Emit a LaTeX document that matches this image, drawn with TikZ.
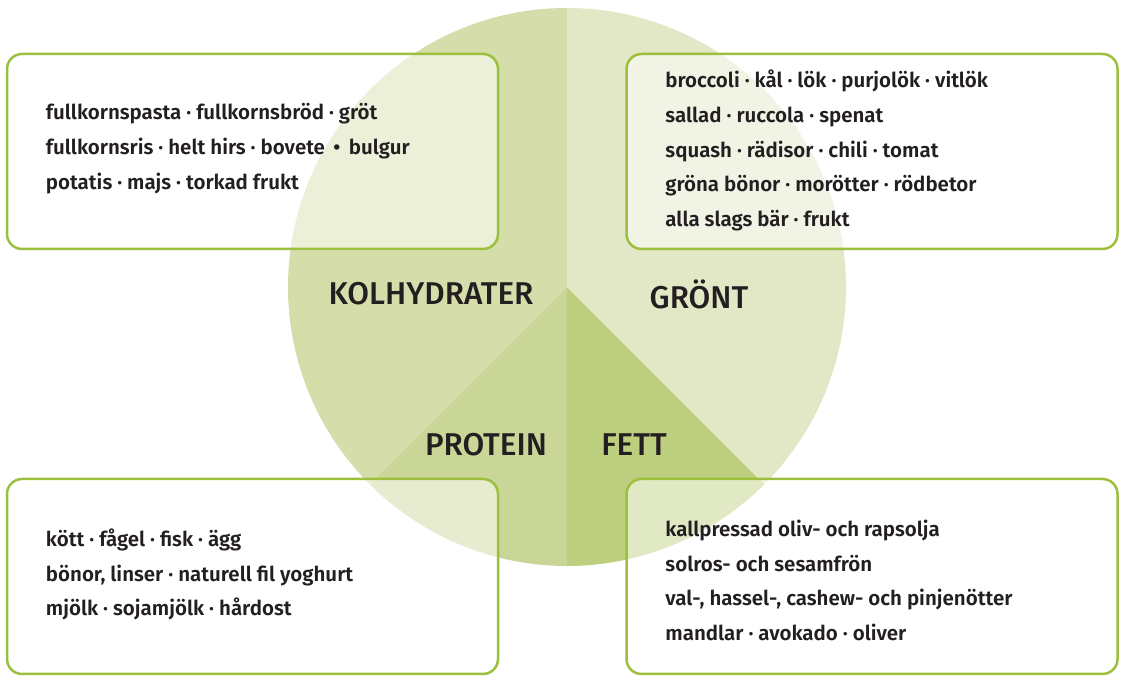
\documentclass[tikz,border=0pt]{standalone}
\usepackage{fontspec}
\setmainfont{Fira Sans}[BoldFont={Fira Sans SemiBold}]
\newfontfamily\headfont{Fira Sans Medium}
\usetikzlibrary{positioning}
\definecolor{kolhgreen}{HTML}{D5DEAB}
\definecolor{grongreen}{HTML}{E2E7C6}
\definecolor{protgreen}{HTML}{CAD697}
\definecolor{fettgreen}{HTML}{BDCE7E}
\definecolor{boxline}{HTML}{9DBF3E}
\definecolor{ink}{HTML}{231F20}

\begin{document}
\begin{tikzpicture}[x=1pt, y=1pt,
    foodbox/.style={draw=boxline, line width=2.5pt, rounded corners=15pt,
        fill=white, fill opacity=0.55, minimum width=491pt, minimum height=195pt, inner sep=0pt},
    foodlist/.style={align=left, inner sep=0pt, text=ink,
        font=\fontsize{20.5}{34.7}\selectfont\bfseries},
    heading/.style={text=ink, font=\headfont\fontsize{31.5}{31.5}\selectfont}]
    \useasboundingbox (0, 0) rectangle (1121, 676);
    \coordinate (mid) at (567, 389);
    \fill[kolhgreen] (mid) -- ++(90:279) arc[start angle=90, end angle=225, radius=279] -- cycle;
    \fill[protgreen] (mid) -- ++(225:279) arc[start angle=225, end angle=270, radius=279] -- cycle;
    \fill[fettgreen] (mid) -- ++(270:279) arc[start angle=270, end angle=315, radius=279] -- cycle;
    \fill[grongreen] (mid) -- ++(-45:279) arc[start angle=-45, end angle=90, radius=279] -- cycle;
    \node[heading] (kolh) at (431, 382) {KOLHYDRATER};
    \node[heading] (gron) at (699, 382) {GRÖNT};
    \node[heading] (prot) at (486, 231) {PROTEIN};
    \node[heading] (fett) at (634, 231) {FETT};
    \node[foodbox] (kolhbox) at (252.5, 524.5) {};
    \node[foodbox] (gronbox) at (872, 524.5) {};
    \node[foodbox] (protbox) at (252.5, 99.5) {};
    \node[foodbox] (fettbox) at (872, 99.5) {};
    \node[foodlist, right=40pt of kolhbox.west, anchor=west, yshift=3pt] (kolhlist)
        {fullkornspasta · fullkornsbröd · gröt\\
         fullkornsris · helt hirs · bovete \,•\, bulgur\\
         potatis · majs · torkad frukt};
    \node[foodlist, right=40pt of gronbox.west, anchor=west, yshift=1pt] (gronlist)
        {broccoli · kål · lök · purjolök · vitlök\\
         sallad · ruccola · spenat\\
         squash · rädisor · chili · tomat\\
         gröna bönor · morötter · rödbetor\\
         alla slags bär · frukt};
    \node[foodlist, right=40pt of protbox.west, anchor=west, yshift=2pt] (protlist)
        {kött · fågel · fisk · ägg\\
         bönor, linser · naturell fil yoghurt\\
         mjölk · sojamjölk · hårdost};
    \node[foodlist, right=40pt of fettbox.west, anchor=west, yshift=-4pt] (fettlist)
        {kallpressad oliv- och rapsolja\\
         solros- och sesamfrön\\
         val-, hassel-, cashew- och pinjenötter\\
         mandlar · avokado · oliver};
\end{tikzpicture}
\end{document}
